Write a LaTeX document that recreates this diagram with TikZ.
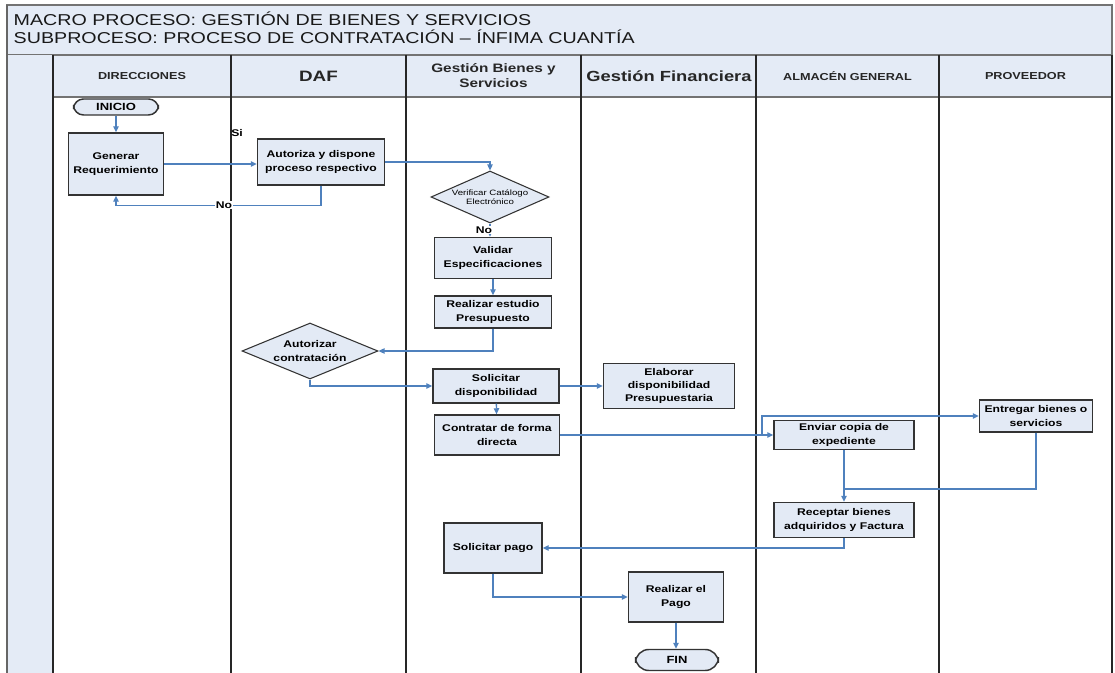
\documentclass[tikz,border=0pt]{standalone}
\usepackage{fontspec}
\setmainfont{Liberation Sans}[FakeStretch=1.25]
\usetikzlibrary{shapes.geometric,arrows.meta}
\newdimen\pxu \pxu=0.75pt
\definecolor{boxfill}{HTML}{E3EAF5}
\definecolor{hdrfill}{HTML}{E4EBF6}
\definecolor{flowc}{HTML}{4F81BD}
\definecolor{edgec}{HTML}{333333}
\begin{document}
\begin{tikzpicture}[x=0.75pt,y=-0.75pt,
  proc/.style={rectangle,draw=edgec,fill=boxfill,line width=1.1pt,
    font=\fontsize{7.3}{10}\selectfont\bfseries,align=center,inner sep=1pt},
  dec/.style={diamond,draw=edgec,fill=boxfill,line width=0.8pt,shape aspect=2.5,
    align=center,inner sep=0pt},
  term/.style={rectangle,rounded corners=7.5pt,draw=edgec,fill=boxfill,line width=1.1pt,
    font=\fontsize{7.8}{9}\selectfont\bfseries,inner sep=1pt},
  flow/.style={draw=flowc,line width=1pt,-{Triangle[length=4.5pt,width=4pt]}},
  flowline/.style={draw=flowc,line width=1pt},
  lbl/.style={font=\fontsize{7.3}{8.5}\selectfont\bfseries,inner sep=0.5pt},
  lane/.style={draw=black!85,line width=1.4pt},
  hdr/.style={align=center,text=black!85}
]
\useasboundingbox (0,0) rectangle (1115,673);
% frame
\path[fill=hdrfill,draw=black!55,line width=0.8pt] (7,5) rectangle (1112,55);
\path[fill=hdrfill] (7,55) rectangle (53,673);
\path[fill=hdrfill,draw=black!55,line width=0.8pt] (53,55) rectangle (1112,97);
\draw[black!60,line width=0.8pt] (7,5) -- (7,673);
\foreach \x in {53,231,406,581,756,939,1112} \draw[lane] (\x,55) -- (\x,673);
% title
\node[anchor=west,font=\fontsize{11.8}{13.5}\selectfont,text=black!90] (t1) at (9,19) {MACRO PROCESO: GESTIÓN DE BIENES Y SERVICIOS};
\node[anchor=west,font=\fontsize{11.8}{13.5}\selectfont,text=black!90] (t2) at (9,37) {SUBPROCESO: PROCESO DE CONTRATACIÓN – ÍNFIMA CUANTÍA};
% headers
\node[hdr,font=\fontsize{7.6}{9}\selectfont\bfseries] (h1) at (142,76) {DIRECCIONES};
\node[hdr,font=\fontsize{11.3}{13}\selectfont\bfseries] (h2) at (318.5,76) {DAF};
\node[hdr,font=\fontsize{9.2}{11.2}\selectfont\bfseries] (h3) at (493.5,75.5) {Gestión Bienes y\\Servicios};
\node[hdr,font=\fontsize{11}{13}\selectfont\bfseries] (h4) at (669,76) {Gestión Financiera};
\node[hdr,font=\fontsize{7.6}{9}\selectfont\bfseries] (h5) at (847.5,76) {ALMACÉN GENERAL};
\node[hdr,font=\fontsize{7.6}{9}\selectfont\bfseries] (h6) at (1025.5,76) {PROVEEDOR};
% nodes
\node[term,minimum width=85\pxu,minimum height=16\pxu] (ini) at (116,107) {INICIO};
\node[proc,minimum width=95\pxu,minimum height=62\pxu] (gen) at (116,164) {Generar\\Requerimiento};
\node[proc,minimum width=127\pxu,minimum height=46\pxu] (aut) at (321,162) {Autoriza y dispone\\proceso respectivo};
\node[dec,minimum width=118\pxu,minimum height=52\pxu,font=\fontsize{5.8}{7}\selectfont] (ver) at (490,197) {Verificar Catálogo\\Electrónico};
\node[proc,minimum width=117\pxu,minimum height=41\pxu] (val) at (493,258) {Validar\\Especificaciones};
\node[proc,minimum width=117\pxu,minimum height=32\pxu] (rea) at (493,312) {Realizar estudio\\Presupuesto};
\node[dec,minimum width=136\pxu,minimum height=56\pxu,font=\fontsize{7.3}{10}\selectfont\bfseries] (autc) at (310,351) {Autorizar\\contratación};
\node[proc,minimum width=126\pxu,minimum height=34\pxu] (sol) at (496,386) {Solicitar\\disponibilidad};
\node[proc,minimum width=131\pxu,minimum height=45\pxu] (ela) at (669,386) {Elaborar\\disponibilidad\\Presupuestaria};
\node[proc,minimum width=125\pxu,minimum height=40\pxu] (con) at (497,435) {Contratar de forma\\directa};
\node[proc,minimum width=140\pxu,minimum height=29\pxu] (env) at (844,435) {Enviar copia de\\expediente};
\node[proc,minimum width=113\pxu,minimum height=32\pxu] (ent) at (1036,416) {Entregar bienes o\\servicios};
\node[proc,minimum width=140\pxu,minimum height=35\pxu] (rec) at (844,520) {Receptar bienes\\adquiridos y Factura};
\node[proc,minimum width=98\pxu,minimum height=50\pxu] (sp) at (493,548) {Solicitar pago};
\node[proc,minimum width=95\pxu,minimum height=50\pxu] (rp) at (676,597) {Realizar el\\Pago};
\node[term,minimum width=83\pxu,minimum height=21\pxu,rounded corners=10pt] (fin) at (677,660) {FIN};
\coordinate (br) at (762,435);
\coordinate (jn) at (844,489);
% connectors
\draw[flow] (ini) -- (gen);
\draw[flow] (gen.east) -- (gen.east -| aut.west);
\node[lbl] (si) at (237,133) {Si};
\draw[flow] (aut.south) -- ++(0,20) -| (gen.south);
\node[lbl,fill=white] (no1) at (224,205) {No};
\draw[flow] (aut.east) -| (ver.north);
\draw[flow] (ver.south) -- (ver.south |- val.north);
\node[lbl,fill=white] (no2) at (484,230) {No};
\draw[flow] (val) -- (rea);
\draw[flow] (rea.south) |- (autc.east);
\draw[flow] (autc.south) |- (sol.west);
\draw[flow] (sol.east) -- (sol.east -| ela.west);
\draw[flow] (sol) -- (con);
\draw[flow] (con.east) -- (con.east -| env.west);
\draw[flow] (br) |- (ent.west);
\draw[flow] (env) -- (rec);
\draw[flowline] (ent.south) |- (jn);
\draw[flow] (rec.south) |- (sp.east);
\draw[flow] (sp.south) |- (rp.west);
\draw[flow] (rp.south) -- (rp.south |- fin.north);
\end{tikzpicture}
\end{document}
